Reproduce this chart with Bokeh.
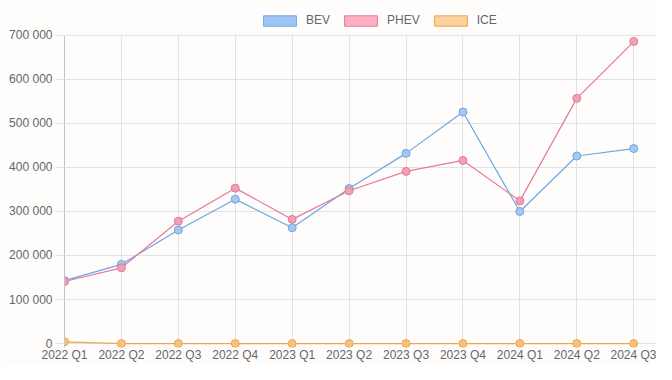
from bokeh.plotting import figure
from bokeh.models import Range1d, FixedTicker, Legend, LegendItem, ColumnDataSource
from bokeh.embed import file_html
from bokeh.resources import INLINE

quarters = ["2022 Q1", "2022 Q2", "2022 Q3", "2022 Q4", "2023 Q1", "2023 Q2",
            "2023 Q3", "2023 Q4", "2024 Q1", "2024 Q2", "2024 Q3"]
bev = [143000, 180000, 258000, 328000, 263000, 352000, 432000, 526000, 300000, 426000, 443000]
phev = [141000, 172000, 278000, 353000, 282000, 347000, 391000, 416000, 324000, 557000, 686000]
ice = [4000, 0, 0, 0, 0, 0, 0, 0, 0, 0, 0]
y_ticks = [0, 100000, 200000, 300000, 400000, 500000, 600000, 700000]

series = [
    ("BEV", bev, "#6fa6df", "#a3c9f0", "#9fc6f0"),
    ("PHEV", phev, "#e6799a", "#f2a0b6", "#fbb1c1"),
    ("ICE", ice, "#eea64f", "#f5c282", "#fad19f"),
]

idx = list(range(len(quarters)))
BG = "#fefdfc"
GRID = "#e2e2e2"
TXT = "#666666"
FONT = "Liberation Sans"

Y_MIN = -9000
Y_TOP = 700000
Y_MAX = Y_TOP + 35 * (Y_TOP - Y_MIN) / 313

p = figure(width=656, height=364, output_backend="svg", toolbar_location=None,
           x_range=Range1d(0, len(quarters) - 1 + 0.4), y_range=Range1d(Y_MIN, Y_MAX),
           min_border_left=64, min_border_right=0, min_border_top=0, min_border_bottom=14,
           background_fill_color=BG, border_fill_color=BG, outline_line_color=None)

p.xaxis.ticker = FixedTicker(ticks=idx)
p.xaxis.major_label_overrides = {i: q for i, q in zip(idx, quarters)}
p.yaxis.ticker = FixedTicker(ticks=y_ticks)
p.yaxis.major_label_overrides = {v: f"{v:,}".replace(",", " ") for v in y_ticks}
p.yaxis.bounds = (Y_MIN, Y_TOP)

for ax in (p.xaxis[0], p.yaxis[0]):
    ax.major_label_text_font = FONT
    ax.major_label_text_font_size = "12px"
    ax.major_label_text_color = TXT
    ax.minor_tick_line_color = None
    ax.major_tick_line_color = GRID
    ax.major_tick_in = 0

p.xaxis.axis_line_color = None
p.xaxis.major_tick_out = 0
p.xaxis.major_label_standoff = 0
p.yaxis.axis_line_color = "#c4c4c4"
p.yaxis.major_tick_out = 9
p.yaxis.major_label_standoff = 3

p.xgrid.grid_line_color = GRID
p.ygrid.grid_line_color = GRID
try:
    p.xgrid.cross_bounds = (Y_MIN, Y_TOP)
except Exception:
    pass

nan = float("nan")
items = []
for name, vals, line_c, fill_c, leg_fill in series:
    src = ColumnDataSource(dict(x=idx, y=vals))
    p.line("x", "y", source=src, line_color=line_c, line_width=1.2)
    p.scatter("x", "y", source=src, size=8, fill_color=fill_c, line_color=line_c, line_width=1)
    q = p.quad(left=[nan], right=[nan], top=[nan], bottom=[nan],
               fill_color=leg_fill, line_color=line_c, line_width=1)
    items.append(LegendItem(label=name, renderers=[q]))

legend = Legend(items=items, orientation="horizontal", location=(195, 320),
                glyph_width=41, glyph_height=13, label_standoff=6, spacing=10,
                padding=0, margin=0, border_line_color=None, background_fill_alpha=0,
                label_text_font=FONT, label_text_font_size="12px", label_text_color=TXT,
                label_height=13)
p.add_layout(legend, "center")

open("out.html", "w").write(file_html(p, INLINE))
